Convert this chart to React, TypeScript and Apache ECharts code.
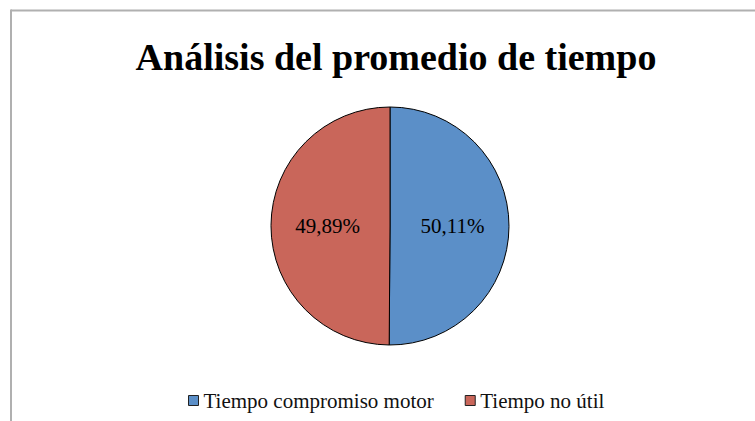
import React, { useEffect, useRef } from "react";
import * as echarts from "echarts";

const categories = ["Tiempo compromiso motor", "Tiempo no útil"];
const values = [50.11, 49.89];
const colors = ["#5b8fc8", "#c9665a"];
const titleText = "Análisis del promedio de tiempo";
const serif = "'Liberation Serif', 'Times New Roman', serif";

export default function App() {
  const ref = useRef<HTMLDivElement>(null);
  useEffect(() => {
    if (!ref.current) return;
    const chart = echarts.init(ref.current, null, { renderer: "svg" });
    chart.setOption({
      animation: false,
      backgroundColor: "#ffffff",
      title: {
        text: titleText,
        left: 391,
        textAlign: "center",
        top: 33,
        textStyle: {
          fontFamily: serif,
          fontWeight: "bold",
          fontSize: 38,
          color: "#000000",
        },
      },
      legend: {
        data: categories,
        left: 183,
        top: 385,
        icon: "rect",
        itemWidth: 10,
        itemHeight: 10,
        itemGap: 31,
        itemStyle: { borderColor: "#222", borderWidth: 1 },
        textStyle: {
          fontFamily: serif,
          fontSize: 21,
          color: "#111",
        },
      },
      graphic: [
        {
          type: "line",
          shape: { x1: 11, y1: 10.5, x2: 755, y2: 10.5 },
          style: { stroke: "#b0b0b0", lineWidth: 2 },
        },
        {
          type: "line",
          shape: { x1: 11, y1: 9.5, x2: 11, y2: 421 },
          style: { stroke: "#b0b0b0", lineWidth: 2 },
        },
      ],
      series: [
        {
          type: "pie",
          center: [390, 226],
          radius: 119,
          startAngle: 90,
          clockwise: true,
          color: colors,
          itemStyle: { borderColor: "#000", borderWidth: 1 },
          label: {
            show: true,
            position: "inside",
            fontFamily: serif,
            fontSize: 21,
            color: "#000",
            formatter: (p: any) => p.value.toFixed(2).replace(".", ",") + "%",
          },
          labelLine: { show: false },
          emphasis: { disabled: true },
          data: categories.map((c, i) => ({ name: c, value: values[i] })),
        },
      ],
    });
    return () => chart.dispose();
  }, []);
  return (
    <div
      ref={ref}
      style={{ position: "fixed", left: 0, top: 0, width: 755, height: 421 }}
    />
  );
}
